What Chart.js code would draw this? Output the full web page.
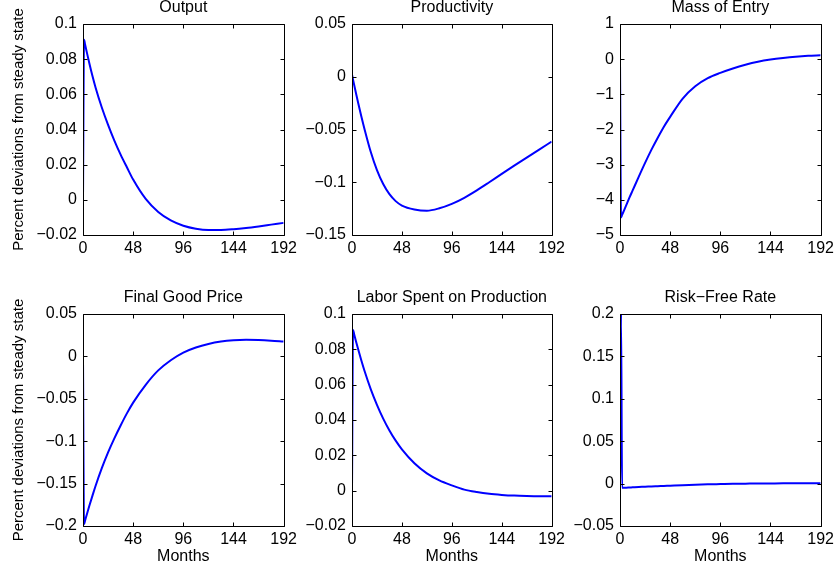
<!DOCTYPE html>
<html>
<head>
<meta charset="utf-8">
<script src="https://cdn.jsdelivr.net/npm/chart.js@4"></script>
<style>
body { margin: 0; background: #fff; }
#wrap { position: relative; width: 838px; height: 569px; background: #fff; }
#wrap canvas { position: absolute; }
</style>
</head>
<body>
<div id="wrap"></div>
<script>
// months after the shock
var months = [0, 1, 2, 4, 6, 9, 12, 18, 24, 30, 36, 42, 48, 60, 72, 84, 96, 108, 120, 132, 144, 156, 168, 180, 192];
var xTicks = [0, 48, 96, 144, 192];

// percent deviations from steady state
var output       = [0, 0.091, 0.0883, 0.083, 0.0778, 0.0705, 0.0639, 0.0525, 0.0426, 0.0337, 0.0257, 0.0185, 0.0115, 0.0005, -0.0069, -0.0117, -0.0147, -0.0164, -0.0171, -0.0171, -0.0167, -0.016, -0.0151, -0.0141, -0.0131];
var productivity = [0.002, -0.0027, -0.0073, -0.0163, -0.0251, -0.0377, -0.0495, -0.0711, -0.0885, -0.1017, -0.1113, -0.1179, -0.1221, -0.1258, -0.127, -0.1247, -0.1205, -0.1147, -0.1077, -0.1, -0.0921, -0.0843, -0.0766, -0.069, -0.0615];
var massEntry    = [0, -4.5, -4.43, -4.29, -4.15, -3.94, -3.74, -3.34, -2.95, -2.58, -2.24, -1.92, -1.64, -1.12, -0.77, -0.54, -0.39, -0.265, -0.16, -0.075, -0.012, 0.035, 0.072, 0.097, 0.11];
var finalPrice   = [0, -0.198, -0.1936, -0.1849, -0.1765, -0.1645, -0.1528, -0.1318, -0.1132, -0.0967, -0.0815, -0.0672, -0.0545, -0.0335, -0.0165, -0.0045, 0.0045, 0.0105, 0.0147, 0.0175, 0.019, 0.0195, 0.0192, 0.0185, 0.0175];
var laborProd    = [0, 0.091, 0.0887, 0.0842, 0.0799, 0.0737, 0.0679, 0.0575, 0.0486, 0.0408, 0.0341, 0.0283, 0.0234, 0.0155, 0.0098, 0.0058, 0.003, 0.0006, -0.0008, -0.0018, -0.0024, -0.0028, -0.003, -0.0031, -0.0031];
var riskFree     = [0, 0.2, -0.005, -0.0049, -0.0048, -0.0046, -0.0044, -0.004, -0.0037, -0.0033, -0.003, -0.0027, -0.0024, -0.0018, -0.0013, -0.0009, -0.0006, -0.0003, -0.0001, 0.0001, 0.0002, 0.0003, 0.0003, 0.0003, 0.0003];

var outputTicks = [-0.02, 0, 0.02, 0.04, 0.06, 0.08, 0.1];
var prodTicks   = [-0.15, -0.1, -0.05, 0, 0.05];
var entryTicks  = [-5, -4, -3, -2, -1, 0, 1];
var priceTicks  = [-0.2, -0.15, -0.1, -0.05, 0, 0.05];
var laborTicks  = [-0.02, 0, 0.02, 0.04, 0.06, 0.08, 0.1];
var rateTicks   = [-0.05, 0, 0.05, 0.1, 0.15, 0.2];

var yLabel = 'Percent deviations from steady state';
var xLabel = 'Months';

var FONT = "'Liberation Sans', Arial, Helvetica, sans-serif";

// where each subplot sits on the page
var panels = [
  { title: 'Output', data: output, ticks: outputTicks, left: 0, top: 0, width: 301, height: 265, yw: 83, xh: 30, ylab: true, xlab: false },
  { title: 'Productivity', data: productivity, ticks: prodTicks, left: 282, top: 0, width: 287, height: 265, yw: 70, xh: 30, ylab: false, xlab: false },
  { title: 'Mass of Entry', data: massEntry, ticks: entryTicks, left: 550, top: 0, width: 288, height: 265, yw: 70, xh: 30, ylab: false, xlab: false },
  { title: 'Final Good Price', data: finalPrice, ticks: priceTicks, left: 0, top: 290, width: 301, height: 279, yw: 83, xh: 43, ylab: true, xlab: true },
  { title: 'Labor Spent on Production', data: laborProd, ticks: laborTicks, left: 282, top: 290, width: 287, height: 279, yw: 70, xh: 43, ylab: false, xlab: true },
  { title: 'Risk\u2212Free Rate', data: riskFree, ticks: rateTicks, left: 550, top: 290, width: 288, height: 279, yw: 70, xh: 43, ylab: false, xlab: true }
];

function fmt(v) {
  var s = String(parseFloat(Number(v).toFixed(4)));
  return s.replace('-', '\u2212');
}

// matlab style box with inward ticks, title centred over the axes
var boxTicks = {
  id: 'boxTicks',
  afterDatasetsDraw: function(chart, args, opts) {
    var a = chart.chartArea, ctx = chart.ctx;
    var xs = chart.scales.x, ys = chart.scales.y;
    var L = Math.round(a.left) + 0.5, R = Math.round(a.right) + 0.5;
    var T = Math.round(a.top) + 0.5, B = Math.round(a.bottom) + 0.5;
    ctx.save();
    ctx.strokeStyle = '#000';
    ctx.lineWidth = 1;
    ctx.beginPath();
    ctx.rect(L, T, R - L, B - T);
    xs.ticks.forEach(function(t) {
      var px = Math.round(xs.getPixelForValue(t.value)) + 0.5;
      ctx.moveTo(px, B); ctx.lineTo(px, B - 4);
      ctx.moveTo(px, T); ctx.lineTo(px, T + 4);
    });
    ys.ticks.forEach(function(t) {
      var py = Math.round(ys.getPixelForValue(t.value)) + 0.5;
      ctx.moveTo(L, py); ctx.lineTo(L + 4, py);
      ctx.moveTo(R, py); ctx.lineTo(R - 4, py);
    });
    ctx.stroke();

    ctx.fillStyle = '#000';
    ctx.font = '16px ' + FONT;
    ctx.textAlign = 'center';
    ctx.textBaseline = 'middle';
    ctx.fillText(opts.text, (a.left + a.right) / 2, 8);
    ctx.restore();
  }
};

var wrap = document.getElementById('wrap');

panels.forEach(function(p) {
  var cv = document.createElement('canvas');
  cv.width = p.width;
  cv.height = p.height;
  cv.style.left = p.left + 'px';
  cv.style.top = p.top + 'px';
  cv.style.width = p.width + 'px';
  cv.style.height = p.height + 'px';
  wrap.appendChild(cv);

  var pts = [];
  for (var i = 0; i < months.length; i++) {
    pts.push({ x: months[i], y: p.data[i] });
  }

  new Chart(cv, {
    type: 'line',
    data: {
      datasets: [{
        data: pts,
        borderColor: '#0000ff',
        borderWidth: 2,
        pointRadius: 0,
        cubicInterpolationMode: 'monotone',
        fill: false
      }]
    },
    options: {
      responsive: false,
      animation: false,
      devicePixelRatio: 1,
      layout: { padding: { left: 0, right: 14, top: 24, bottom: 0 } },
      plugins: {
        legend: { display: false },
        tooltip: { enabled: false },
        title: { display: false },
        boxTicks: { text: p.title }
      },
      scales: {
        x: {
          type: 'linear',
          min: xTicks[0],
          max: xTicks[xTicks.length - 1],
          grid: { display: false, drawTicks: false, tickLength: 0 },
          border: { display: false },
          afterBuildTicks: function(s) {
            s.ticks = xTicks.map(function(v) { return { value: v }; });
          },
          afterFit: function(s) { s.height = p.xh; },
          ticks: {
            color: '#000',
            font: { family: FONT, size: 16 },
            padding: 4,
            autoSkip: false,
            maxRotation: 0,
            callback: function(v) { return fmt(v); }
          },
          title: {
            display: p.xlab,
            text: xLabel,
            color: '#000',
            font: { family: FONT, size: 16 },
            padding: { top: 0, bottom: 3 }
          }
        },
        y: {
          type: 'linear',
          min: p.ticks[0],
          max: p.ticks[p.ticks.length - 1],
          grid: { display: false, drawTicks: false, tickLength: 0 },
          border: { display: false },
          afterBuildTicks: function(s) {
            s.ticks = p.ticks.map(function(v) { return { value: v }; });
          },
          afterFit: function(s) { s.width = p.yw; },
          ticks: {
            color: '#000',
            font: { family: FONT, size: 16 },
            padding: 6,
            autoSkip: false,
            callback: function(v) { return fmt(v); }
          },
          title: {
            display: p.ylab,
            text: yLabel,
            color: '#000',
            font: { family: FONT, size: 15 },
            padding: { top: 10, bottom: 0 }
          }
        }
      }
    },
    plugins: [boxTicks]
  });
});
</script>
</body>
</html>
